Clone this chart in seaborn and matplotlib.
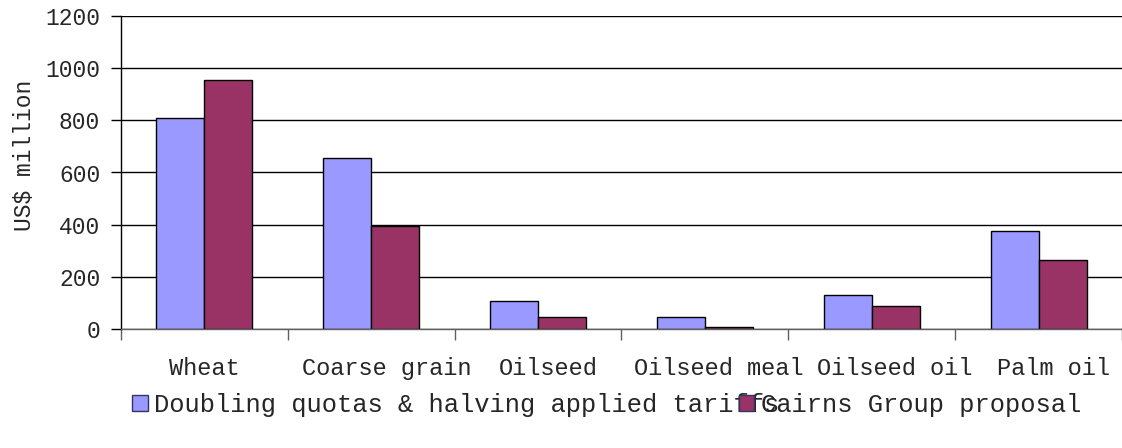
import matplotlib
matplotlib.use("Agg")
import matplotlib.pyplot as plt
from matplotlib.patches import Patch
from matplotlib.ticker import FixedLocator
from matplotlib.transforms import ScaledTranslation
import seaborn as sns
import pandas as pd

categories = ["Wheat", "Coarse grain", "Oilseed", "Oilseed meal", "Oilseed oil", "Palm oil"]
series_names = ["Doubling quotas & halving applied tariffs", "Cairns Group proposal"]
doubling = [808, 656, 107, 46, 130, 375]
cairns = [953, 394, 46, 6, 89, 265]
colors = ["#9999FF", "#993366"]

df = pd.DataFrame({
    "category": categories * 2,
    "series": [series_names[0]] * len(categories) + [series_names[1]] * len(categories),
    "value": doubling + cairns,
})

sns.set_theme(style="white")
plt.rcParams["font.family"] = ["Liberation Mono", "DejaVu Sans Mono"]

fig = plt.figure(figsize=(11.22, 4.48), dpi=100)
ax = fig.add_axes([121 / 1122, 119 / 448, 1001 / 1122, 313 / 448])

sns.barplot(data=df, x="category", y="value", hue="series", palette=colors,
            width=0.576, edgecolor="black", linewidth=1, saturation=1,
            legend=False, ax=ax)

ax.set_xlim(-0.5, 5.5)
ax.set_ylim(0, 1200)
ax.set_yticks(range(0, 1201, 200))
ax.yaxis.grid(True, color="black", linewidth=1)
ax.set_axisbelow(True)
for s in ["top", "right"]:
    ax.spines[s].set_visible(False)
ax.spines["left"].set_color("black")
ax.spines["bottom"].set_color("#606060")
ax.spines["left"].set_linewidth(1)
ax.spines["bottom"].set_linewidth(1)

ax.xaxis.set_minor_locator(FixedLocator([i - 0.5 for i in range(len(categories) + 1)]))
ax.tick_params(axis="x", which="major", length=0, pad=20, labelsize=17)
ax.tick_params(axis="x", which="minor", length=8, width=1, color="#606060", direction="out", bottom=True)
ax.tick_params(axis="y", length=7, width=1, color="black", left=True, pad=8, labelsize=16.5)

# the original labels sit a little right of the group centres
label_shift_px = [0, 16, 10, 14, 23, 15]
for lab, dx in zip(ax.get_xticklabels(), label_shift_px):
    lab.set_transform(lab.get_transform() + ScaledTranslation(dx / 100, 0, fig.dpi_scale_trans))

ax.set_xlabel("")
ax.set_ylabel("US$ million", fontsize=16.5)
ax.yaxis.set_label_coords(-0.085, 0.556)

handles = [Patch(facecolor=c, edgecolor="#333366", linewidth=1) for c in colors]
fig.legend(handles, series_names, loc="center left", bbox_to_anchor=(132 / 1122, 1 - 405 / 448),
           ncol=2, frameon=False, fontsize=18.4, handlelength=0.62, handleheight=0.62,
           handletextpad=0.25, columnspacing=-1.6, borderaxespad=0, borderpad=0)

fig.savefig("out.png", dpi=100)
